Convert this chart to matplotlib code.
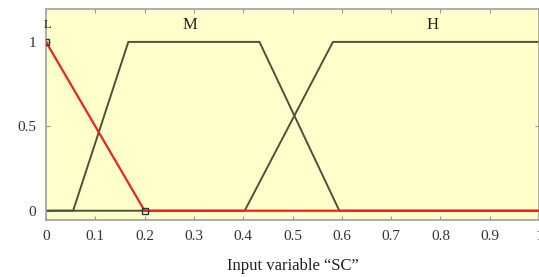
import matplotlib
matplotlib.use("Agg")
import matplotlib.pyplot as plt

# Membership functions of input variable "SC"
L_x = [0.0, 0.2, 1.0]
L_y = [1.0, 0.0, 0.0]
M_x = [0.0, 0.055, 0.167, 0.433, 0.595, 1.0]
M_y = [0.0, 0.0, 1.0, 1.0, 0.0, 0.0]
H_x = [0.0, 0.403, 0.582, 1.0]
H_y = [0.0, 0.0, 1.0, 1.0]
marker_x = [0.0, 0.2]
marker_y = [1.0, 0.0]
labels = ["L", "M", "H"]
label_x = [0.004, 0.292, 0.785]
xticks = [0, 0.1, 0.2, 0.3, 0.4, 0.5, 0.6, 0.7, 0.8, 0.9, 1]
xticklabels = ["0", "0.1", "0.2", "0.3", "0.4", "0.5", "0.6", "0.7", "0.8", "0.9", "1"]
yticks = [0, 0.5, 1]
yticklabels = ["0", "0.5", "1"]

plt.rcParams['font.family'] = ['Liberation Serif', 'DejaVu Serif']

fig = plt.figure(figsize=(5.39, 2.77), dpi=100)
ax = fig.add_axes([46/539, 1-220/277, 493/539, 211/277])
ax.set_facecolor('#ffffcc')

line_col = '#4d5238'
ax.plot(M_x, M_y, color=line_col, lw=1.4, solid_joinstyle='round')
ax.plot(H_x, H_y, color=line_col, lw=1.4, solid_joinstyle='round')
ax.plot(L_x, L_y, color='#e8261c', lw=1.6, zorder=3)
ax.plot(marker_x, marker_y, ls='none', marker='s', ms=5, mfc='none',
        mec='#333333', mew=1.0, zorder=4)

for t, lx in zip(labels, label_x):
    fs = 9 if t == "L" else 12
    ax.text(lx, 1.10, t, ha='center', va='center', fontsize=fs, color='#222222')

ax.set_xlim(0, 1)
ax.set_ylim(-0.055, 1.195)
ax.set_xticks(xticks)
ax.set_xticklabels(xticklabels)
ax.set_yticks(yticks)
ax.set_yticklabels(yticklabels)
ax.tick_params(direction='in', length=3, colors='#999999', labelcolor='#333333',
               labelsize=11, top=True, right=True, pad=7)
for s in ax.spines.values():
    s.set_color('#a0a0a0')
    s.set_linewidth(1.2)
ax.set_xlabel('Input variable \u201cSC\u201d', fontsize=12, color='#222222', labelpad=11)

fig.savefig('out.png', dpi=100)
